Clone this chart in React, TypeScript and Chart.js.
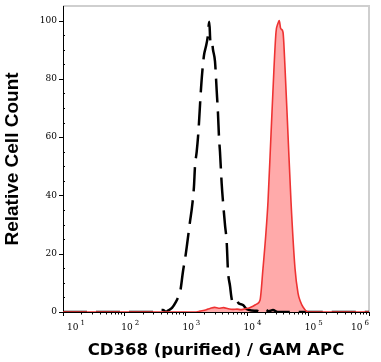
import React, { useEffect, useRef } from "react";
import { Chart, registerables } from "chart.js";

Chart.register(...registerables);

// Isotype control (black dashed)
const isoX = [10, 300, 356, 430, 480, 520, 604, 700, 758, 830, 914, 1000, 1062, 1189, 1282, 1380, 1435, 1530, 1607, 1668, 1778, 1880, 2010, 2160, 2300, 2456, 2560, 2690, 2825, 3045, 3245, 3410, 3539, 3673, 3917, 4110, 4432, 4728, 4966, 5354, 5707, 6220, 6885, 7400, 8730, 10000, 12000, 14800, 17000, 20000, 23000, 27000, 32000, 1000000];
const isoY = [0, 0, 0.7, 0.7, 0, 0.5, 1.4, 3.5, 5, 7.5, 14, 19, 23, 31, 36, 43, 50, 55, 60, 65, 75, 82, 88, 91, 94, 99.6, 93, 93.5, 90, 86, 76, 68, 60, 55, 44, 38, 30, 24, 14, 9, 4.5, 3.2, 4, 3, 2.4, 1, 0.5, 0.4, 0, 0.8, 0.3, 0.7, 0, 0];

// CD368 stained (red filled)
const cdX = [10, 1500, 1734, 2200, 2523, 3000, 3500, 4200, 5000, 6000, 7000, 8000, 9500, 11000, 12700, 14800, 16560, 18540, 20500, 22390, 25060, 28070, 30230, 32500, 34200, 35800, 37000, 39330, 42390, 47450, 53120, 61760, 69180, 76000, 83490, 100700, 1000000];
const cdY = [0, 0, 0.3, 0.8, 1.2, 1.6, 1.3, 1.5, 1.1, 0.9, 1.0, 0.8, 1.1, 1.4, 2.0, 2.8, 4.0, 15, 26, 38, 61, 84, 96, 99, 100, 97.5, 97, 96, 84, 61, 38, 15, 6.5, 3.5, 1.7, 0, 0];

const xExponents = [1, 2, 3, 4, 5, 6];
const xMinorFactors = [2, 3, 4, 5, 6, 7, 8, 9];
const yMajorTicks = [0, 20, 40, 60, 80, 100];
const yMinorTicks = [5, 10, 15, 25, 30, 35, 45, 50, 55, 65, 70, 75, 85, 90, 95];

const xTitle = "CD368 (purified) / GAM APC";
const yTitle = "Relative Cell Count";

const decorPlugin = {
  id: "decor",
  beforeDatasetsDraw(chart: any) {
    const ctx = chart.ctx;
    const { left, right, top, bottom } = chart.chartArea;
    const xs = chart.scales.x;
    const ys = chart.scales.y;
    ctx.save();
    // gray frame top/right
    ctx.strokeStyle = "#cfcfcf";
    ctx.lineWidth = 2;
    ctx.beginPath();
    ctx.moveTo(left, top);
    ctx.lineTo(right, top);
    ctx.lineTo(right, bottom);
    ctx.stroke();
    // axes
    ctx.strokeStyle = "#000";
    ctx.lineWidth = 1;
    ctx.beginPath();
    ctx.moveTo(left + 0.5, top);
    ctx.lineTo(left + 0.5, bottom + 0.5);
    ctx.lineTo(right, bottom + 0.5);
    ctx.stroke();
    // y ticks
    ctx.beginPath();
    yMajorTicks.forEach((v) => {
      const y = Math.round(ys.getPixelForValue(v)) + 0.5;
      ctx.moveTo(left - 4, y);
      ctx.lineTo(left, y);
    });
    yMinorTicks.forEach((v) => {
      const y = Math.round(ys.getPixelForValue(v)) + 0.5;
      ctx.moveTo(left, y);
      ctx.lineTo(left + 2, y);
    });
    // x ticks
    xExponents.forEach((e) => {
      const x = Math.round(xs.getPixelForValue(Math.pow(10, e))) + 0.5;
      ctx.moveTo(x, bottom);
      ctx.lineTo(x, bottom + 4);
      if (e < 6) {
        xMinorFactors.forEach((f) => {
          const xm = Math.round(xs.getPixelForValue(f * Math.pow(10, e))) + 0.5;
          ctx.moveTo(xm, bottom);
          ctx.lineTo(xm, bottom + 2.5);
        });
      }
    });
    ctx.stroke();
    // y labels
    ctx.fillStyle = "#000";
    ctx.font = "9px 'DejaVu Serif'";
    ctx.textAlign = "right";
    ctx.textBaseline = "middle";
    yMajorTicks.forEach((v) => {
      ctx.fillText(String(v), left - 6, ys.getPixelForValue(v));
    });
    // x labels: 10 with superscript
    ctx.textAlign = "left";
    ctx.textBaseline = "alphabetic";
    xExponents.forEach((e, i) => {
      const x = xs.getPixelForValue(Math.pow(10, e));
      ctx.font = "9px 'DejaVu Serif'";
      const w1 = ctx.measureText("10").width;
      ctx.font = "7px 'DejaVu Serif'";
      const w2 = ctx.measureText(String(e)).width;
      let start = x - 3;
      if (i === 0) start = x + 4;
      if (i === xExponents.length - 1) start = x - (w1 + w2 + 2);
      ctx.font = "9px 'DejaVu Serif'";
      ctx.fillText("10", start, bottom + 18);
      ctx.font = "7px 'DejaVu Serif'";
      ctx.fillText(String(e), start + w1 + 2, bottom + 13);
    });
    // titles
    ctx.font = "bold 16.5px 'DejaVu Sans'";
    ctx.textAlign = "center";
    ctx.textBaseline = "alphabetic";
    ctx.fillText(xTitle, (left + right) / 2, bottom + 43);
    ctx.save();
    ctx.translate(13, (top + bottom) / 2);
    ctx.rotate(-Math.PI / 2);
    ctx.font = "bold 19px 'Liberation Sans'";
    ctx.textBaseline = "middle";
    ctx.fillText(yTitle, 0, 0);
    ctx.restore();
    ctx.restore();
  },
};

export default function App() {
  const ref = useRef<HTMLCanvasElement>(null);
  useEffect(() => {
    if (!ref.current) return;
    const cdPoints = cdX.map((x, i) => ({ x, y: cdY[i] }));
    const chart = new Chart(ref.current, {
      type: "scatter",
      data: {
        datasets: [
          {
            label: "CD368 line",
            data: cdPoints,
            showLine: true,
            borderColor: "#ee3333",
            borderWidth: 1.6,
            pointRadius: 0,
            cubicInterpolationMode: "monotone",
            fill: false,
          },
          {
            label: "Isotype",
            data: isoX.map((x, i) => ({ x, y: isoY[i] })),
            showLine: true,
            borderColor: "#000",
            borderWidth: 2.5,
            borderDash: [24, 9],
            pointRadius: 0,
            cubicInterpolationMode: "monotone",
            fill: false,
          },
          {
            label: "CD368 fill",
            data: cdPoints,
            showLine: true,
            borderColor: "rgba(0,0,0,0)",
            borderWidth: 0,
            backgroundColor: "#ffaaaa",
            pointRadius: 0,
            cubicInterpolationMode: "monotone",
            fill: "origin",
          },
        ],
      },
      options: {
        animation: false,
        responsive: false,
        layout: { padding: { left: 0, right: 12, top: 6, bottom: 0 } },
        plugins: { legend: { display: false }, tooltip: { enabled: false } },
        scales: {
          x: {
            type: "logarithmic",
            min: 10,
            max: 1000000,
            grid: { display: false },
            border: { display: false },
            ticks: { display: false },
            afterFit: (s: any) => {
              s.height = 50;
            },
          },
          y: {
            type: "linear",
            min: 0,
            max: 105,
            grid: { display: false },
            border: { display: false },
            ticks: { display: false },
            afterFit: (s: any) => {
              s.width = 63;
            },
          },
        },
      },
      plugins: [decorPlugin],
    } as any);
    return () => chart.destroy();
  }, []);
  return (
    <div style={{ position: "absolute", left: 0, top: 0, width: 381, height: 362, background: "#fff" }}>
      <canvas ref={ref} width={381} height={362} style={{ display: "block" }} />
    </div>
  );
}
